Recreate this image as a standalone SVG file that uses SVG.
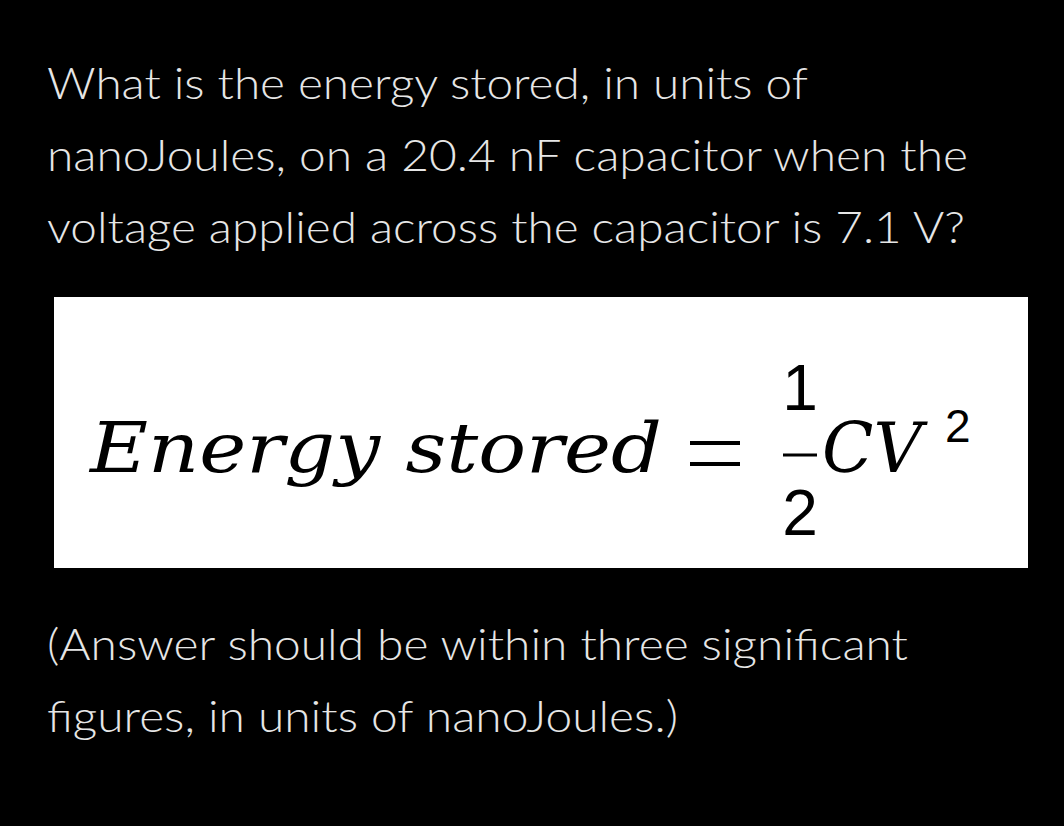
<svg xmlns="http://www.w3.org/2000/svg" width="1064" height="826" viewBox="0 0 1064 826">
<style>
.t{font-family:Lato,"Open Sans",sans-serif;font-weight:300;font-size:43px;fill:#e6e6e6}
.m{font-family:"DejaVu Serif","Liberation Serif",serif;font-style:italic;font-size:70px;fill:#000}
.n{font-family:"Liberation Sans",Arial,sans-serif;font-size:64px;fill:#000}
</style>
<rect width="1064" height="826" fill="#000"/>
<text class="t" x="47" y="99" textLength="761" lengthAdjust="spacingAndGlyphs">What is the energy stored, in units of</text>
<text class="t" x="47" y="171" textLength="921" lengthAdjust="spacingAndGlyphs">nanoJoules, on a 20.4 nF capacitor when the</text>
<text class="t" x="47" y="243" textLength="918" lengthAdjust="spacingAndGlyphs">voltage applied across the capacitor is 7.1 V?</text>
<rect x="54" y="297" width="974" height="271" fill="#fff"/>
<text class="m" x="90" y="472" textLength="572" lengthAdjust="spacingAndGlyphs">Energy stored</text>
<g stroke="#000" stroke-width="4">
<line x1="690" y1="443" x2="740" y2="443"/>
<line x1="690" y1="464" x2="740" y2="464"/>
<line x1="783" y1="455" x2="817" y2="455" stroke-width="3"/>
</g>
<text class="n" x="800" y="410" text-anchor="middle">1</text>
<text class="n" x="800" y="535" text-anchor="middle">2</text>
<text class="m" x="822" y="472" textLength="100" lengthAdjust="spacingAndGlyphs">CV</text>
<text class="n" x="945" y="442" style="font-size:46px">2</text>
<text class="t" x="47" y="660" textLength="861" lengthAdjust="spacingAndGlyphs">(Answer should be within three significant</text>
<text class="t" x="47" y="732" textLength="631" lengthAdjust="spacingAndGlyphs">figures, in units of nanoJoules.)</text>
</svg>
